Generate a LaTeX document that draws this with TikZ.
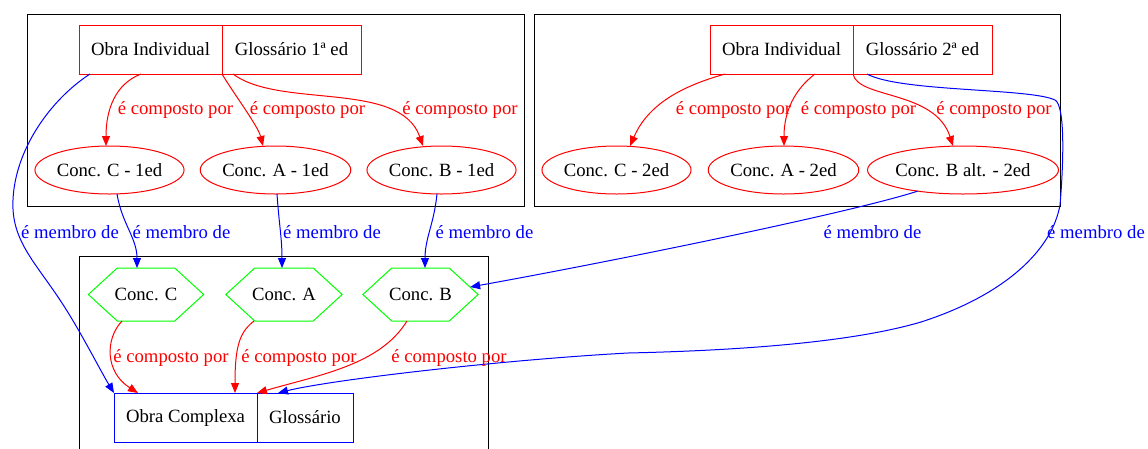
\documentclass[tikz,border=0pt]{standalone}
\usepackage{fontspec}
\setmainfont{Liberation Serif}
\usetikzlibrary{shapes.geometric,shapes.symbols,arrows.meta}
\begin{document}
\begin{tikzpicture}[x=1pt,y=-1pt,line width=1pt,font=\fontsize{18.7}{22}\selectfont]
    \tikzstyle{recbox}=[draw, rectangle, outer sep=0pt, inner sep=0pt, minimum height=49pt]
    \tikzstyle{redbox}=[recbox, draw=red]
    \tikzstyle{bluebox}=[recbox, draw=blue]
    \tikzstyle{concell}=[draw=red, ellipse, outer sep=0pt, inner sep=0pt, minimum height=48pt]
    \tikzstyle{conchex}=[draw=green, signal, signal to=east and west, signal pointer angle=85, outer sep=0pt, inner ysep=0pt, inner xsep=-2.7pt, minimum height=53pt]
    \tikzstyle{comp}=[red, -{Triangle[length=10pt,width=8pt]}]
    \tikzstyle{memb}=[blue, -{Triangle[length=10pt,width=8pt]}]
    \tikzstyle{complbl}=[text=red, inner sep=0pt]
    \tikzstyle{memblbl}=[text=blue, inner sep=0pt]

    \useasboundingbox (0,0) rectangle (1148,448);
    \draw[black] (27,14) rectangle (524,206);
    \draw[black] (534,14) rectangle (1060,206);
    \draw[black] (79,256) rectangle (488,470);

    \node[redbox, minimum width=143pt] (oi1) at (150.5,49.5) {Obra Individual};
    \node[redbox, minimum width=139pt] (gl1) at (291.5,49.5) {Glossário 1ª ed};
    \node[concell, minimum width=143pt] (c1) at (109.5,170) {Conc. C - 1ed};
    \node[concell, minimum width=139pt] (a1) at (275.5,170) {Conc. A - 1ed};
    \node[concell, minimum width=143pt] (b1) at (441.5,170) {Conc. B - 1ed};

    \node[redbox, minimum width=143pt] (oi2) at (781.5,49.5) {Obra Individual};
    \node[redbox, minimum width=139pt] (gl2) at (922.5,49.5) {Glossário 2ª ed};
    \node[concell, minimum width=143pt] (c2) at (616.5,170) {Conc. C - 2ed};
    \node[concell, minimum width=139pt] (a2) at (783.5,170) {Conc. A - 2ed};
    \node[concell, minimum width=170pt] (b2) at (963,170) {Conc. B alt. - 2ed};

    \node[conchex] (hC) at (146,294.5) {Conc. C};
    \node[conchex] (hA) at (284,294.5) {Conc. A};
    \node[conchex] (hB) at (420.5,294.5) {Conc. B};
    \node[bluebox, minimum width=143pt] (oc) at (185.5,417.5) {Obra Complexa};
    \node[bluebox, minimum width=96pt] (glc) at (305,417.5) {Glossário};

    \draw[comp] ([xshift=62pt]oi1.south west) .. controls +(-26,10) and +(0,-36) .. ([xshift=-3.5pt]c1.north);
    \draw[comp] (oi1.south east) .. controls +(12,20) and +(-5,-20) .. ([xshift=-12.5pt]a1.north);
    \draw[comp] ([xshift=11pt]oi1.south east) .. controls +(47,35) and +(-23,-66) .. ([xshift=-18.5pt]b1.north);
    \node[complbl] (lc1) at (175.5,110) {é composto por};
    \node[complbl] (la1) at (307.5,110) {é composto por};
    \node[complbl] (lb1) at (460,110) {é composto por};

    \draw[comp] ([xshift=15pt]oi2.south west) .. controls +(-35,10) and +(20,-46) .. ([xshift=13.5pt]c2.north);
    \draw[comp] ([xshift=105pt]oi2.south west) .. controls +(-20,15) and +(0,-35) .. ([xshift=0.5pt]a2.north);
    \draw[comp] (oi2.south east) .. controls +(5,25) and +(-18,-56) .. ([xshift=-10pt]b2.north);
    \node[complbl] (lc2) at (733.5,110) {é composto por};
    \node[complbl] (la2) at (858.5,110) {é composto por};
    \node[complbl] (lb2) at (994,110) {é composto por};

    \draw[memb] ([xshift=7.5pt]c1.south) .. controls +(5,30) and +(0,-30) .. ([xshift=-9pt]hC.north);
    \draw[memb] ([xshift=1.5pt]a1.south) .. controls +(2,30) and +(0,-30) .. ([xshift=-2pt]hA.north);
    \draw[memb] ([xshift=-4.5pt]b1.south) .. controls +(-3,30) and +(0,-30) .. ([xshift=4.5pt]hB.north);
    \draw[memb] (b2.205) .. controls +(-65,21) and +(150,-27) .. ([shift={(-8pt,7.5pt)}]hB.east);
    \draw[memb] ([xshift=11pt]oi1.south west) .. controls (50,100) and (15,150) .. (13,200)
        .. controls (11,240) and (35,262) .. (60,300) .. controls (80,330) and (100,370) .. (oc.north west);
    \draw[memb] ([xshift=14pt]gl2.south west) .. controls (900,92) and (1030,88) .. (1055,100)
        .. controls (1066,106) and (1063,170) .. (1060,205) .. controls (1052,250) and (1005,295) .. (921,322)
        .. controls (860,340) and (760,350) .. (628,353) .. controls (500,360) and (330,380) .. ([xshift=21pt]glc.north west);
    \node[memblbl] (m0) at (70,232) {é membro de};
    \node[memblbl] (mc) at (181.5,232) {é membro de};
    \node[memblbl] (ma) at (332,232) {é membro de};
    \node[memblbl] (mb) at (484.5,232) {é membro de};
    \node[memblbl] (mbalt) at (872.5,232) {é membro de};
    \node[memblbl] (mgl) at (1096,232) {é membro de};

    \draw[comp] ([xshift=-24pt]hC.south) .. controls +(-17,18) and +(-33,-21) .. ([xshift=24pt]oc.north west);
    \draw[comp] ([xshift=-30pt]hA.south) .. controls +(-14,11) and +(0,-48) .. ([xshift=121pt]oc.north west);
    \draw[comp] ([xshift=-13.5pt]hB.south) .. controls +(-27,44) and +(62,-18) .. (glc.north west);
    \node[complbl] (lcc) at (171,358) {é composto por};
    \node[complbl] (lca) at (299,358) {é composto por};
    \node[complbl] (lcb) at (449,358) {é composto por};
\end{tikzpicture}
\end{document}
